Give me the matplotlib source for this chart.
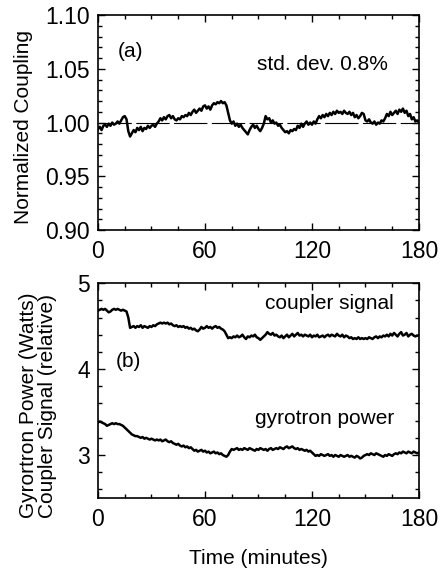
import numpy as np
import matplotlib
matplotlib.use("Agg")
import matplotlib.pyplot as plt
from matplotlib.ticker import MultipleLocator

plt.rcParams['font.family'] = ['Liberation Sans', 'DejaVu Sans']

# time in minutes, one reading per minute
minutes = np.arange(0, 181)

coupling = [
    0.994, 0.996, 0.993, 0.997, 0.998, 0.996, 0.999, 0.997, 1.000, 0.998,
    0.999, 1.001, 0.999, 1.002, 1.005, 1.006, 1.003, 0.992, 0.987, 0.990,
    0.993, 0.991, 0.995, 0.993, 0.996, 0.992, 0.995, 0.994, 0.997, 0.995,
    0.997, 0.998, 0.996, 0.999, 1.001, 1.004, 1.002, 1.005, 1.003, 1.006,
    1.007, 1.004, 1.006, 1.003, 1.002, 1.004, 1.003, 1.006, 1.005, 1.007,
    1.006, 1.009, 1.007, 1.010, 1.012, 1.009, 1.011, 1.013, 1.011, 1.015,
    1.016, 1.013, 1.015, 1.012, 1.016, 1.018, 1.017, 1.019, 1.018, 1.020,
    1.018, 1.019, 1.016, 1.009, 1.002, 0.999, 1.001, 0.997, 0.999, 0.996,
    0.998, 0.995, 0.993, 0.991, 0.989, 0.993, 0.996, 0.998, 0.995, 0.997,
    0.994, 0.992, 0.995, 0.999, 1.006, 1.003, 1.004, 1.000, 1.002, 0.999,
    1.000, 0.997, 0.998, 0.995, 0.993, 0.991, 0.992, 0.990, 0.993, 0.992,
    0.994, 0.993, 0.997, 0.995, 0.999, 0.996, 0.999, 1.001, 0.998, 1.000,
    0.998, 1.001, 0.999, 1.003, 1.006, 1.004, 1.007, 1.005, 1.008, 1.006,
    1.009, 1.007, 1.010, 1.008, 1.011, 1.009, 1.010, 1.008, 1.011, 1.009,
    1.008, 1.010, 1.007, 1.009, 1.005, 1.007, 1.004, 1.006, 1.009, 1.008,
    1.002, 1.001, 1.003, 1.000, 0.999, 1.001, 0.998, 1.000, 0.999, 1.002,
    1.001, 1.004, 1.008, 1.006, 1.010, 1.007, 1.009, 1.011, 1.008, 1.012,
    1.010, 1.013, 1.009, 1.011, 1.006, 1.008, 1.003, 1.005, 1.001, 1.002,
    1.000,
]

coupler_signal = [
    4.68, 4.69, 4.70, 4.69, 4.70, 4.68, 4.66, 4.67, 4.69, 4.70,
    4.69, 4.70, 4.69, 4.68, 4.69, 4.68, 4.67, 4.60, 4.48, 4.49,
    4.50, 4.48, 4.50, 4.49, 4.51, 4.48, 4.50, 4.49, 4.48, 4.50,
    4.49, 4.51, 4.50, 4.52, 4.53, 4.54, 4.53, 4.54, 4.53, 4.54,
    4.52, 4.53, 4.51, 4.50, 4.51, 4.49, 4.50, 4.49, 4.50, 4.48,
    4.49, 4.47, 4.48, 4.46, 4.47, 4.45, 4.44, 4.46, 4.49, 4.47,
    4.48, 4.50, 4.48, 4.49, 4.47, 4.49, 4.50, 4.48, 4.49, 4.47,
    4.46, 4.44, 4.40, 4.36, 4.37, 4.36, 4.38, 4.37, 4.39, 4.37,
    4.38, 4.40, 4.37, 4.35, 4.38, 4.37, 4.39, 4.38, 4.40, 4.37,
    4.36, 4.34, 4.36, 4.38, 4.40, 4.43, 4.41, 4.40, 4.42, 4.39,
    4.40, 4.38, 4.37, 4.39, 4.36, 4.38, 4.40, 4.37, 4.39, 4.41,
    4.38, 4.40, 4.42, 4.39, 4.40, 4.38, 4.40, 4.39, 4.38, 4.40,
    4.37, 4.39, 4.38, 4.40, 4.37, 4.38, 4.39, 4.37, 4.39, 4.40,
    4.38, 4.40, 4.39, 4.38, 4.41, 4.39, 4.38, 4.40, 4.37, 4.39,
    4.38, 4.36, 4.37, 4.35, 4.36, 4.35, 4.37, 4.35, 4.36, 4.35,
    4.36, 4.35, 4.37, 4.36, 4.35, 4.37, 4.38, 4.36, 4.38, 4.37,
    4.39, 4.38, 4.40, 4.38, 4.41, 4.39, 4.42, 4.40, 4.38, 4.41,
    4.43, 4.39, 4.40, 4.42, 4.38, 4.40, 4.41, 4.39, 4.38, 4.39,
    4.39,
]

gyrotron_power = [
    3.38, 3.39, 3.38, 3.37, 3.36, 3.34, 3.35, 3.36, 3.37, 3.36,
    3.37, 3.36, 3.36, 3.35, 3.34, 3.32, 3.30, 3.28, 3.26, 3.24,
    3.23, 3.22, 3.22, 3.21, 3.20, 3.21, 3.19, 3.20, 3.19, 3.18,
    3.19, 3.18, 3.17, 3.18, 3.17, 3.18, 3.16, 3.17, 3.18, 3.16,
    3.15, 3.16, 3.14, 3.13, 3.12, 3.13, 3.11, 3.10, 3.11, 3.09,
    3.10, 3.08, 3.09, 3.07, 3.05, 3.06, 3.04, 3.05, 3.06, 3.04,
    3.05, 3.03, 3.04, 3.02, 3.03, 3.04, 3.02, 3.03, 3.01, 3.02,
    3.00, 2.99, 2.98, 3.00, 3.04, 3.07, 3.06, 3.07, 3.08, 3.06,
    3.07, 3.06, 3.08, 3.07, 3.06, 3.08, 3.07, 3.06, 3.05, 3.07,
    3.06, 3.08, 3.07, 3.06, 3.07, 3.05, 3.07, 3.08, 3.06, 3.07,
    3.08, 3.07, 3.09, 3.08, 3.07, 3.09, 3.10, 3.08, 3.09, 3.10,
    3.08, 3.07, 3.08, 3.06, 3.07, 3.06, 3.05, 3.06, 3.04, 3.05,
    3.03, 3.01, 2.99, 3.00, 2.99, 3.01, 3.00, 2.99, 3.00, 3.01,
    2.99, 3.00, 2.98, 3.00, 2.99, 2.98, 3.00, 2.99, 2.98, 2.99,
    3.00, 2.98, 2.99, 2.98, 2.97, 2.99, 2.98, 2.96, 2.97, 2.99,
    3.00, 3.01, 3.00, 3.02, 3.01, 3.00, 3.02, 3.01, 3.00, 2.99,
    2.98, 3.00, 2.99, 3.01, 3.00, 2.99, 3.01, 3.02, 3.01, 3.03,
    3.02, 3.04, 3.03, 3.02, 3.04, 3.03, 3.02, 3.04, 3.03, 3.02,
    3.03,
]

x_ticks = [0, 60, 120, 180]

fig = plt.figure(figsize=(4.4, 5.7), dpi=100)
ax1 = fig.add_axes([0.2227, 0.5965, 0.7295, 0.377])
ax2 = fig.add_axes([0.2227, 0.1263, 0.7295, 0.377])

# panel (a)
ax1.axhline(1.0, color='black', lw=0.8, dashes=(30, 4))
ax1.plot(minutes, coupling, color='black', lw=1.8)
ax1.set_xlim(0, 180)
ax1.set_ylim(0.90, 1.10)
ax1.set_yticks([0.90, 0.95, 1.00, 1.05, 1.10])
ax1.set_yticklabels(['0.90', '0.95', '1.00', '1.05', '1.10'])
ax1.yaxis.set_minor_locator(MultipleLocator(0.01))
ax1.set_ylabel('Normalized Coupling', fontsize=15)
ax1.yaxis.set_label_coords(-0.203, 0.48)
ax1.text(18, 1.066, '(a)', fontsize=15, ha='center', va='center')
ax1.text(126, 1.054, 'std. dev. 0.8%', fontsize=15, ha='center', va='center')

# panel (b)
ax2.plot(minutes, coupler_signal, color='black', lw=1.8)
ax2.plot(minutes, gyrotron_power, color='black', lw=1.8)
ax2.set_xlim(0, 180)
ax2.set_ylim(2.5, 5)
ax2.set_yticks([3, 4, 5])
ax2.yaxis.set_minor_locator(MultipleLocator(0.2))
ax2.set_ylabel('Gyrortron Power (Watts)\nCoupler Signal (relative)', fontsize=15,
               linespacing=1.0)
ax2.yaxis.set_label_coords(-0.128, 0.43)
ax2.set_xlabel('Time (minutes)', fontsize=15, labelpad=13)
ax2.text(130, 4.76, 'coupler signal', fontsize=15, ha='center', va='center')
ax2.text(17, 4.09, '(b)', fontsize=15, ha='center', va='center')
ax2.text(127, 3.42, 'gyrotron power', fontsize=15, ha='center', va='center')

for ax in (ax1, ax2):
    ax.set_xticks(x_ticks)
    ax.xaxis.set_minor_locator(MultipleLocator(15))
    ax.tick_params(which='both', direction='in', top=True, right=True, labelsize=16.5)
    ax.tick_params(which='major', length=5, width=1)
    ax.tick_params(which='minor', length=3, width=1)
    ax.tick_params(axis='x', pad=7)
    ax.tick_params(axis='y', pad=6)
    for s in ax.spines.values():
        s.set_linewidth(1.2)

fig.savefig('out.png', dpi=100)
